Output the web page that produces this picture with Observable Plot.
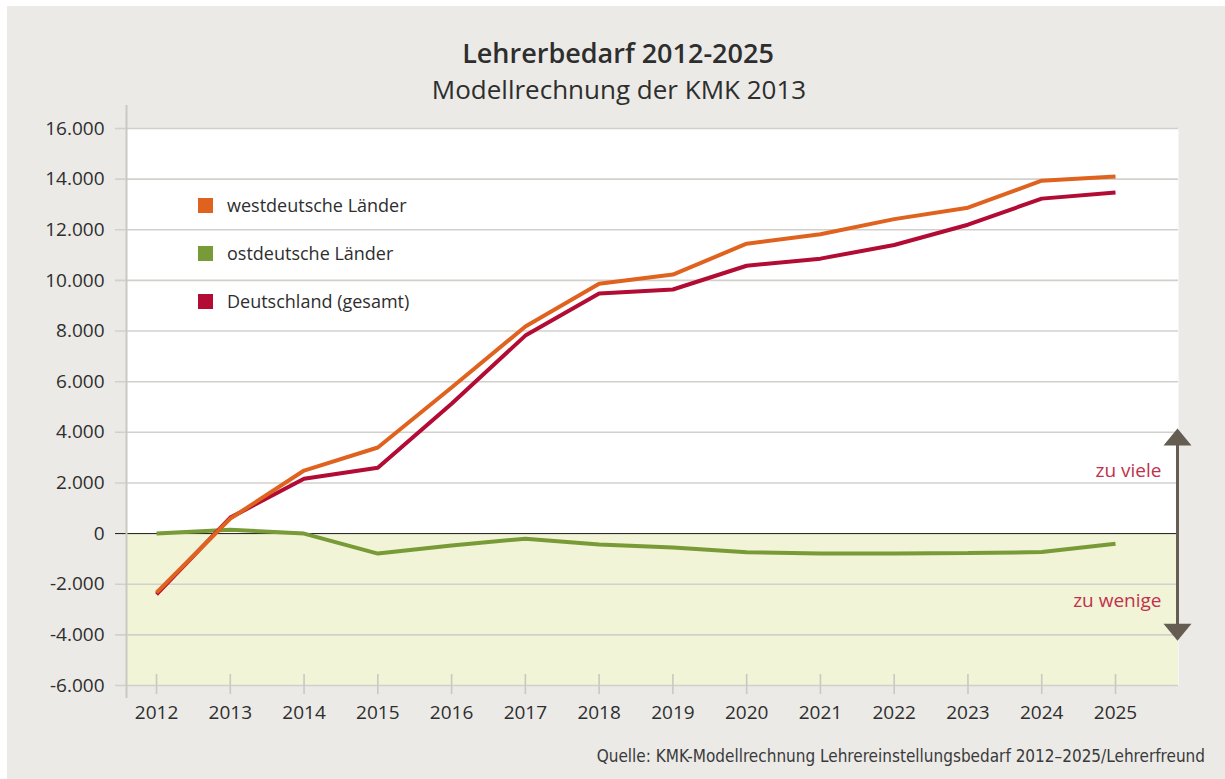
<!DOCTYPE html>
<html>
<head>
<meta charset="utf-8">
<script src="https://cdn.jsdelivr.net/npm/d3@7"></script>
<script src="https://cdn.jsdelivr.net/npm/@observablehq/plot@0.6"></script>
<style>
  html, body { margin: 0; padding: 0; background: #ffffff; }
  #page { position: absolute; left: 7px; top: 6px; width: 1218px; height: 773px; background: #ebeae7; overflow: hidden; font-family: "Open Sans", sans-serif; color: #2e2e2e; }
  #title { position: absolute; left: 0; top: 31px; width: 1222px; text-align: center; font-size: 27px; font-weight: 600; line-height: 32px; }
  #subtitle { position: absolute; left: 0; top: 67px; width: 1224px; text-align: center; font-size: 26px; font-weight: 400; line-height: 32px; }
  #chart { position: absolute; left: -7px; top: 88px; }
  #legend { position: absolute; left: 191px; top: 181px; }
  .li { position: relative; height: 48px; font-size: 18px; line-height: 36px; white-space: nowrap; }
  .sw { display: inline-block; width: 15px; height: 15px; vertical-align: -1px; margin-right: 14px; }
  #caption { position: absolute; right: 20px; top: 740px; font-family: "Liberation Sans Narrow", "DejaVu Sans Condensed", sans-serif; font-stretch: condensed; font-size: 17px; color: #3a3a3a; white-space: nowrap; }
</style>
</head>
<body>
<div id="page">
  <div id="title"></div>
  <div id="subtitle"></div>
  <div id="chart"></div>
  <div id="legend"></div>
  <div id="caption"></div>
</div>
<script>
// ---- data ----
const years = [2012, 2013, 2014, 2015, 2016, 2017, 2018, 2019, 2020, 2021, 2022, 2023, 2024, 2025];
const westdeutsch = [-2330, 590, 2490, 3400, 5770, 8180, 9870, 10230, 11450, 11820, 12420, 12870, 13940, 14100];
const ostdeutsch  = [0, 150, 0, -790, -470, -200, -430, -550, -740, -790, -790, -770, -730, -400];
const gesamt      = [-2400, 630, 2170, 2600, 5130, 7820, 9480, 9640, 10580, 10860, 11400, 12200, 13230, 13470];
const seriesNames = ["westdeutsche Länder", "ostdeutsche Länder", "Deutschland (gesamt)"];
const seriesColors = ["#e0621f", "#789a37", "#b20b34"];
const yTicks = [-6000, -4000, -2000, 0, 2000, 4000, 6000, 8000, 10000, 12000, 14000, 16000];
const annotations = [{label: "zu viele", y: 2480}, {label: "zu wenige", y: -2650}];
const arrowEnds = [4150, -4230];
const deficitZone = [{y1: -6000, y2: 0}];

const titleText = "Lehrerbedarf 2012-2025";
const subtitleText = "Modellrechnung der KMK 2013";
const captionText = "Quelle: KMK-Modellrechnung Lehrereinstellungsbedarf 2012–2025/Lehrerfreund";

// ---- build ----
document.getElementById("title").textContent = titleText;
document.getElementById("subtitle").textContent = subtitleText;
document.getElementById("caption").textContent = captionText;

const legend = document.getElementById("legend");
seriesNames.forEach((n, i) => {
  const row = document.createElement("div");
  row.className = "li";
  const sw = document.createElement("span");
  sw.className = "sw";
  sw.style.background = seriesColors[i];
  row.appendChild(sw);
  row.appendChild(document.createTextNode(n));
  legend.appendChild(row);
});

const rows = (vals, name) => years.map((yr, i) => ({year: yr, value: vals[i], series: name}));
const westRows = rows(westdeutsch, seriesNames[0]);
const ostRows = rows(ostdeutsch, seriesNames[1]);
const gesRows = rows(gesamt, seriesNames[2]);

const fmt = d => {
  const s = d3.format(",")(Math.abs(d)).replace(/,/g, ".");
  return (d < 0 ? "-" : "") + s;
};

const xDomain = [2011.593, 2025.854];
const W = 1225, H = 640, mTop = 34, mBottom = 49;
const innerH = H - mTop - mBottom;

const upHead = { draw(ctx) { ctx.moveTo(0, 0); ctx.lineTo(14, 17); ctx.lineTo(-14, 17); ctx.closePath(); } };
const downHead = { draw(ctx) { ctx.moveTo(0, 0); ctx.lineTo(14, -17); ctx.lineTo(-14, -17); ctx.closePath(); } };

const lineOpts = (color) => ({x: "year", y: "value", stroke: color, strokeWidth: 4, strokeLinecap: "butt", strokeLinejoin: "miter"});

const chart = Plot.plot({
  width: W,
  height: H,
  marginTop: mTop,
  marginBottom: mBottom,
  marginLeft: 126,
  marginRight: 47,
  style: {fontFamily: "'Open Sans', sans-serif", fontSize: "17px", color: "#2e2e2e", background: "transparent", overflow: "visible"},
  x: {domain: xDomain, label: null},
  y: {domain: [-6000, 16000], label: null},
  marks: [
    Plot.frame({fill: "white", stroke: "none"}),
    Plot.rectY(deficitZone, {y1: "y1", y2: "y2", fill: "#f1f4d6"}),
    Plot.ruleY(yTicks.filter(d => d !== 0), {stroke: "#d2d0cb", strokeWidth: 1.6, insetLeft: -11}),
    Plot.ruleY([0], {stroke: "#1a1a1a", strokeWidth: 1, insetLeft: -11}),
    Plot.ruleX([xDomain[0]], {stroke: "#cac8c2", strokeWidth: 2, insetTop: -23, insetBottom: -13}),
    Plot.tickX(years, {x: d => d, stroke: "#cac8c2", strokeWidth: 1.6, insetTop: innerH - 11, insetBottom: -9}),
    Plot.axisY({ticks: yTicks, tickSize: 0, tickPadding: 22, tickFormat: fmt, fontSize: 19, fill: "#2e2e2e", label: null}),
    Plot.axisX({ticks: years, tickSize: 0, tickPadding: 20, tickFormat: d => String(d), fontSize: 19, fill: "#2e2e2e", label: null}),
    Plot.line(ostRows, lineOpts(seriesColors[1])),
    Plot.line(gesRows, lineOpts(seriesColors[2])),
    Plot.line(westRows, lineOpts(seriesColors[0])),
    Plot.ruleX([xDomain[1]], {y1: arrowEnds[0], y2: arrowEnds[1], stroke: "#655c52", strokeWidth: 3, dx: -1, insetTop: 8, insetBottom: 8}),
    Plot.dot([arrowEnds[0]], {x: () => xDomain[1], y: d => d, symbol: upHead, fill: "#655c52", stroke: "none", dx: -1}),
    Plot.dot([arrowEnds[1]], {x: () => xDomain[1], y: d => d, symbol: downHead, fill: "#655c52", stroke: "none", dx: -1}),
    Plot.text(annotations, {x: () => xDomain[1], y: "y", text: "label", textAnchor: "end", dx: -17, fill: "#c2304c", fontSize: 19})
  ]
});
document.getElementById("chart").appendChild(chart);
</script>
</body>
</html>
